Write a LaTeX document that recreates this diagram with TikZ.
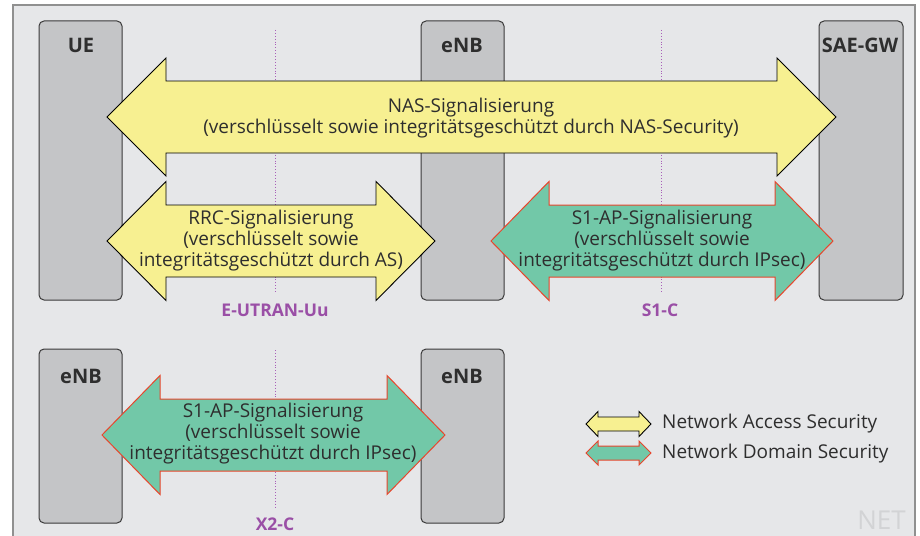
\documentclass[tikz,border=0pt]{standalone}
\usepackage{fontspec}
\setmainfont{Open Sans}
\usetikzlibrary{positioning}

\definecolor{panelbg}{HTML}{E6E7E9}
\definecolor{panelframe}{HTML}{909090}
\definecolor{boxfill}{HTML}{C4C5C7}
\definecolor{boxline}{HTML}{3A3A3A}
\definecolor{accyellow}{HTML}{F7F091}
\definecolor{domgreen}{HTML}{72C8A8}
\definecolor{domred}{HTML}{E8452C}
\definecolor{ifpurple}{HTML}{9A4FA6}
\definecolor{ifdots}{HTML}{A860B8}
\definecolor{txtgray}{HTML}{2E2E2E}
\definecolor{logogray}{HTML}{D2D3D5}

% double-headed block arrow: x-left, x-right, y-centre, head half-height, shaft half-height, head length
\newcommand\blockarrow[7][]{%
  \draw[#1] (#2,#4) -- (#2+#7,#4-#5) -- (#2+#7,#4-#6) -- (#3-#7,#4-#6) -- (#3-#7,#4-#5)
    -- (#3,#4) -- (#3-#7,#4+#5) -- (#3-#7,#4+#6) -- (#2+#7,#4+#6) -- (#2+#7,#4+#5) -- cycle;}

\tikzset{
  x=1pt, y=-1pt,
  entity/.style={draw=boxline, fill=boxfill, line width=1pt, rounded corners=5pt},
  entitylabel/.style={font=\bfseries\fontsize{20}{22}\selectfont, text=txtgray},
  nasarrow/.style={draw=black, fill=accyellow, line width=0.9pt, line join=miter},
  ndsarrow/.style={draw=domred, fill=domgreen, line width=1pt, line join=miter},
  arrowtext/.style={align=center, font=\fontsize{19}{21}\selectfont, text=txtgray, inner sep=0pt},
  iface/.style={draw=ifdots, dotted, line width=0.9pt},
  ifacelabel/.style={font=\bfseries\fontsize{17.5}{19}\selectfont, text=ifpurple},
  legendtext/.style={anchor=west, font=\fontsize{19}{21}\selectfont, text=txtgray, inner sep=0pt},
}

\begin{document}
\begin{tikzpicture}
\useasboundingbox (0,0) rectangle (920,535);
\begin{scope}
  \clip (0,0) rectangle (920,535);
  \draw[panelframe, fill=panelbg, line width=1.5pt] (13,5) rectangle (915,560);
\end{scope}

% network elements, upper row
\path[entity] (39,21) rectangle (122,300);
\path[entity] (421,21) rectangle (504,300);
\path[entity] (819,21) rectangle (903,300);
\node[entitylabel] (ue) at (81,45) {UE};
\node[entitylabel] (enbA) at (462,45) {eNB};
\node[entitylabel] (gw) at (860,45) {SAE-GW};

% interfaces, upper row
\coordinate (uuTop) at (275,30);
\coordinate (uuBot) at (275,293);
\coordinate (s1Top) at (661,30);
\coordinate (s1Bot) at (661,293);
\draw[iface] (uuTop) -- (uuBot);
\draw[iface] (s1Top) -- (s1Bot);
\node[ifacelabel] (uu) at (275,310) {E-UTRAN-Uu};
\node[ifacelabel] (s1c) at (660,310) {S1-C};

% signalling arrows, upper row
\blockarrow[nasarrow]{107}{836}{117}{59}{36}{59}
\node[arrowtext] (nas) at (471,118) {NAS-Signalisierung\\(verschlüsselt sowie integritätsgeschützt durch NAS-Security)};
\blockarrow[nasarrow]{107}{435}{241}{59.5}{36}{59}
\node[arrowtext] (rrc) at (271,241) {RRC-Signalisierung\\(verschlüsselt sowie\\integritätsgeschützt durch AS)};
\blockarrow[ndsarrow]{491}{833}{241}{59.5}{36}{58}
\node[arrowtext] (s1ap) at (662,241) {S1-AP-Signalisierung\\(verschlüsselt sowie\\integritätsgeschützt durch IPsec)};

% lower row: two eNBs over X2
\path[entity] (39,349) rectangle (122,523);
\path[entity] (421,349) rectangle (504,523);
\node[entitylabel] (enbB) at (81,376) {eNB};
\node[entitylabel] (enbC) at (462,376) {eNB};
\coordinate (x2Top) at (275,350);
\coordinate (x2Bot) at (275,508);
\draw[iface] (x2Top) -- (x2Bot);
\node[ifacelabel] (x2c) at (275,524) {X2-C};
\blockarrow[ndsarrow]{102}{445}{435}{59.5}{36}{58}
\node[arrowtext] (x2ap) at (273,434) {S1-AP-Signalisierung\\(verschlüsselt sowie\\integritätsgeschützt durch IPsec)};

% legend
\blockarrow[nasarrow]{586}{651}{424}{12.5}{7}{12}
\blockarrow[ndsarrow]{586}{651}{453}{12}{7}{12}
\node[legendtext] (legNAS) at (662,424) {Network Access Security};
\node[legendtext] (legNDS) at (662,454) {Network Domain Security};

% logo
\node[font=\fontsize{26}{26}\selectfont, text=logogray, anchor=base east, inner sep=0pt] (logo) at (906,529) {NET};
\end{tikzpicture}
\end{document}
